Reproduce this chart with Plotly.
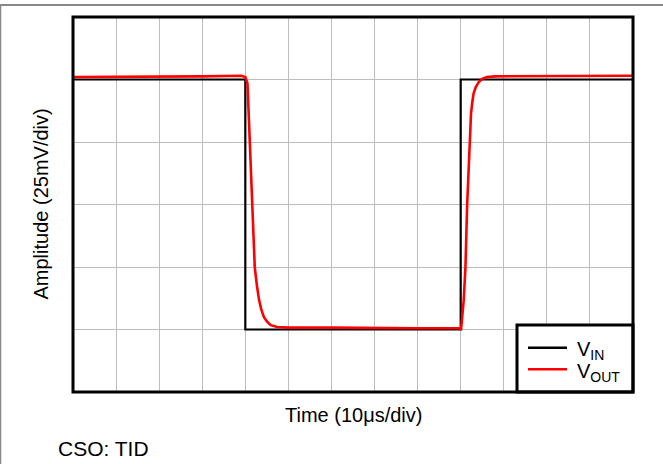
import plotly.graph_objects as go

# ---- data (time in divisions, amplitude in divisions) ----
t_in = [0, 4.0, 4.0, 9.0, 9.0, 13.0]
v_in = [5.0, 5.0, 1.0, 1.0, 5.0, 5.0]

t_out = [0, 1, 2, 3, 3.9, 4.0, 4.05, 4.10, 4.15, 4.22, 4.27, 4.32, 4.37, 4.43, 4.5, 4.59,
         4.74, 5.0, 6, 7, 8, 8.95, 9.01, 9.07, 9.11, 9.15, 9.20, 9.24, 9.27, 9.30, 9.35,
         9.42, 9.5, 9.61, 9.8, 10.5, 11.5, 12.5, 13]
v_out = [5.04, 5.04, 5.05, 5.05, 5.06, 5.04, 4.94, 3.99, 2.99, 1.99, 1.70, 1.47, 1.32, 1.20, 1.13, 1.07,
         1.04, 1.03, 1.03, 1.02, 1.02, 1.02, 1.01, 1.47, 1.99, 2.99, 3.99, 4.46, 4.64, 4.78, 4.88,
         4.96, 5.01, 5.04, 5.05, 5.05, 5.05, 5.05, 5.06]

x_label = "Time (10\u03bcs/div)"
y_label = "Amplitude (25mV/div)"
names = ["V<sub>IN</sub>", "V<sub>OUT</sub>"]
colors = ["#000000", "#ff0000"]

W, H = 663, 464
L, R, T, B = 73, 30, 17, 72
PW, PH = W - L - R, H - T - B

def px(x):
    return (x - L) / PW

def py(y):
    return (H - B - y) / PH

FONT = "Liberation Sans, Arial, sans-serif"

fig = go.Figure()
fig.add_trace(go.Scatter(x=t_in, y=v_in, mode="lines", line=dict(color=colors[0], width=2.2),
                         name=names[0], showlegend=False))
fig.add_trace(go.Scatter(x=t_out, y=v_out, mode="lines", line=dict(color=colors[1], width=2.6),
                         name=names[1], showlegend=False))

shapes = []
# outer gray frame (top and left)
shapes.append(dict(type="line", xref="paper", yref="paper", x0=px(0), x1=px(W), y0=py(5), y1=py(5),
                   line=dict(color="#878787", width=2)))
shapes.append(dict(type="line", xref="paper", yref="paper", x0=px(0.5), x1=px(0.5), y0=py(5), y1=py(H),
                   line=dict(color="#878787", width=1.5)))
# legend box
shapes.append(dict(type="rect", xref="paper", yref="paper", x0=px(517), x1=1, y0=0, y1=py(325),
                   fillcolor="white", line=dict(color="black", width=3), layer="above"))
# legend lines
for i, yy in enumerate([347.7, 369.3]):
    shapes.append(dict(type="line", xref="paper", yref="paper", x0=px(528), x1=px(567), y0=py(yy), y1=py(yy),
                       line=dict(color=colors[i], width=2.5), layer="above"))
# plot border
shapes.append(dict(type="rect", xref="x domain", yref="y domain", x0=0, x1=1, y0=0, y1=1,
                   line=dict(color="black", width=3), layer="above"))

annotations = [
    dict(text=x_label, xref="paper", yref="paper", x=0.5, y=py(415), xanchor="center", yanchor="middle",
         showarrow=False, font=dict(family=FONT, size=20, color="black")),
    dict(text=y_label, xref="paper", yref="paper", x=px(40), y=0.5, xanchor="center", yanchor="middle",
         textangle=-90, showarrow=False, font=dict(family=FONT, size=20, color="black")),
    dict(text="CSO: TID", xref="paper", yref="paper", x=px(56), y=py(448), xanchor="left", yanchor="middle",
         showarrow=False, font=dict(family=FONT, size=21, color="black")),
]
for i, yy in enumerate([347.7, 369.3]):
    annotations.append(dict(text=names[i], xref="paper", yref="paper", x=px(575), y=py(yy + 3),
                            xanchor="left", yanchor="middle", showarrow=False,
                            font=dict(family=FONT, size=20, color="black")))

fig.update_layout(
    width=W, height=H,
    margin=dict(l=L, r=R, t=T, b=B, pad=0),
    paper_bgcolor="white", plot_bgcolor="white",
    xaxis=dict(range=[0, 13], dtick=1, tick0=0, showgrid=True, gridcolor="#bdbdbd", gridwidth=1,
               zeroline=False, showticklabels=False, ticks="", showline=False, fixedrange=True),
    yaxis=dict(range=[0, 6], dtick=1, tick0=0, showgrid=True, gridcolor="#bdbdbd", gridwidth=1,
               zeroline=False, showticklabels=False, ticks="", showline=False, fixedrange=True),
    shapes=shapes,
    annotations=annotations,
    showlegend=False,
)

fig.write_html("out.html", config={"displayModeBar": False})
